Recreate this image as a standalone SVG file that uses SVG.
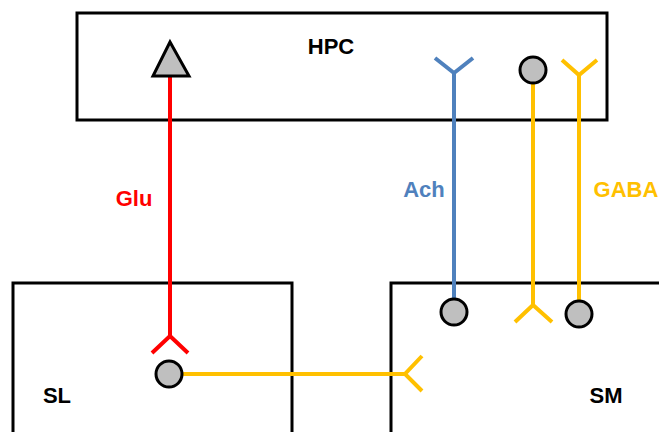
<svg xmlns="http://www.w3.org/2000/svg" width="659" height="432" viewBox="0 0 659 432">
<style>
.box{fill:#fff;stroke:#000;stroke-width:3}
.lbl{font-family:"Liberation Sans",Arial,sans-serif;font-weight:bold;font-size:22px}
.red{stroke:#ff0000;stroke-width:4;fill:none}
.blue{stroke:#4f81bd;stroke-width:4;fill:none}
.yel{stroke:#ffc000;stroke-width:4;fill:none}
.soma{fill:#bfbfbf;stroke:#000;stroke-width:3}
</style>
<rect width="659" height="432" fill="#fff"/>
<g id="HPC"><rect class="box" x="77" y="13" width="530" height="107"/><text class="lbl" x="331" y="54" text-anchor="middle">HPC</text></g>
<g id="SL"><rect class="box" x="13" y="283" width="279" height="160"/><text class="lbl" x="57" y="403" text-anchor="middle">SL</text></g>
<g id="SM"><rect class="box" x="391" y="283" width="280" height="160"/><text class="lbl" x="606" y="403" text-anchor="middle">SM</text></g>
<g id="connectors">
<path class="red" d="M170 76V336M152 353L170 336L188 353"/>
<polygon points="170,42 153,76 189,76" class="soma"/>
<path class="blue" d="M454 298V73M435 58L454 73L473 58"/>
<path class="yel" d="M533 84V305M515 322L533 305L552 322"/>
<path class="yel" d="M579 300V75M562 60L579 75L597 60"/>
<path class="yel" d="M182 374H405M422 356L405 374L422 391"/>
<circle class="soma" cx="454" cy="312" r="13"/>
<circle class="soma" cx="533" cy="70" r="13"/>
<circle class="soma" cx="579" cy="314" r="13"/>
<circle class="soma" cx="169" cy="374" r="13"/>
</g>
<text class="lbl" x="134" y="206" text-anchor="middle" fill="#ff0000">Glu</text>
<text class="lbl" x="424" y="197" text-anchor="middle" fill="#4f81bd">Ach</text>
<text class="lbl" x="626" y="197" text-anchor="middle" fill="#ffc000">GABA</text>
</svg>
